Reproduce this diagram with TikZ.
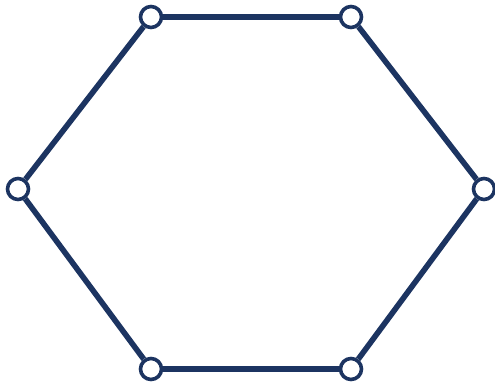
\documentclass[tikz,border=0pt]{standalone}
\usepackage{tikz}
\usetikzlibrary{positioning}
\definecolor{navy}{HTML}{1C3461}
\tikzset{
  vertex/.style={circle, draw=navy, fill=white, line width=1.8pt, minimum size=10.5pt, inner sep=0pt},
  edge/.style={draw=navy, line width=2.8pt}
}

\begin{document}
\begin{tikzpicture}[x=0.5pt, y=-0.5pt]
\useasboundingbox (0,0) rectangle (495,383);

\node (tl) [vertex] at (151,17) {};
\node (tr) [vertex] at (351,17) {};
\node (r)  [vertex] at (484,189) {};
\node (br) [vertex] at (351,369) {};
\node (bl) [vertex] at (151,369) {};
\node (l)  [vertex] at (18,189) {};

\draw[edge] (tl) -- (tr);
\draw[edge] (tr) -- (r);
\draw[edge] (r) -- (br);
\draw[edge] (br) -- (bl);
\draw[edge] (bl) -- (l);
\draw[edge] (l) -- (tl);

\end{tikzpicture}
\end{document}
